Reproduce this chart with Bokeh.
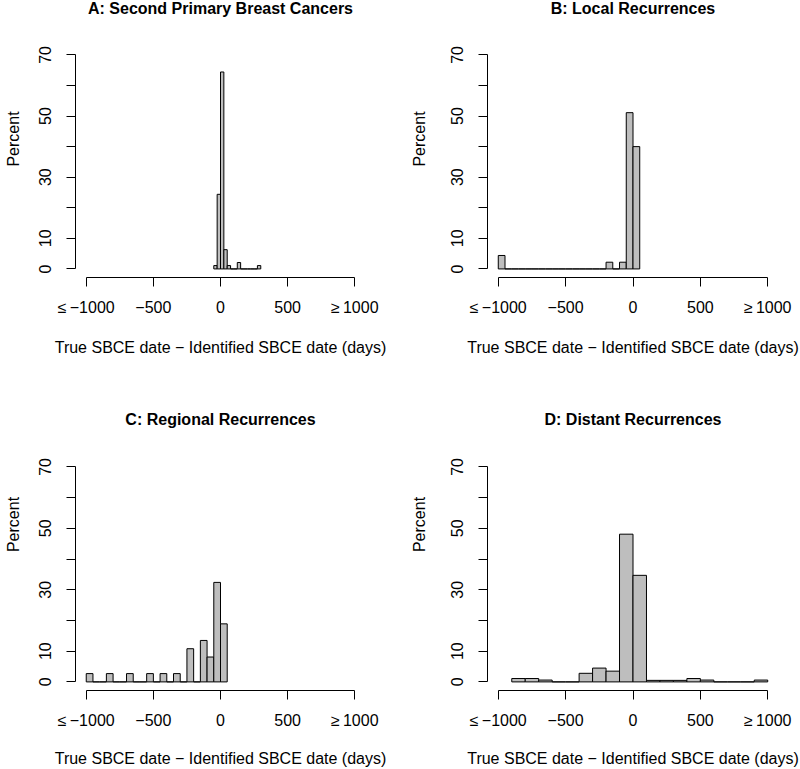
from bokeh.plotting import figure
from bokeh.layouts import column, row
from bokeh.models import Range1d, FixedTicker
from bokeh.core.properties import value
from bokeh.embed import file_html
from bokeh.resources import INLINE

FONT = "Liberation Sans"

# ---------------- data (percent of SBCEs per bin of days) ----------------
titles = ["A: Second Primary Breast Cancers", "B: Local Recurrences",
          "C: Regional Recurrences", "D: Distant Recurrences"]

a_edges = [-50, -25, 0, 25, 50, 75, 100, 125, 150, 175, 200, 225, 250, 275, 300]
a_pct = [1.1, 24.4, 64.4, 6.3, 1.1, 0, 0, 2.1, 0, 0, 0, 0, 0, 1.1]

b_edges = [-1000, -950, -900, -850, -800, -750, -700, -650, -600, -550, -500,
           -450, -400, -350, -300, -250, -200, -150, -100, -50, 0, 50]
b_pct = [4.4, 0, 0, 0, 0, 0, 0, 0, 0, 0, 0, 0, 0, 0, 0, 0, 2.2, 0, 2.2, 51.1, 40.0]

c_edges = [-1000, -950, -900, -850, -800, -750, -700, -650, -600, -550, -500,
           -450, -400, -350, -300, -250, -200, -150, -100, -50, 0, 50]
c_pct = [2.7, 0, 0, 2.7, 0, 0, 2.7, 0, 0, 2.7, 0, 2.7, 0, 2.7, 0, 10.8, 0, 13.5,
         8.1, 32.4, 18.9]

d_edges = [-900, -800, -700, -600, -500, -400, -300, -200, -100, 0, 100, 200,
           300, 400, 500, 600, 700, 800, 900, 1000]
d_pct = [1.1, 1.1, 0.6, 0, 0, 2.8, 4.5, 3.5, 48.1, 34.7, 0.5, 0.5, 0.5, 1.1, 0.6,
         0, 0, 0, 0.6]

x_ticks = [-1000, -500, 0, 500, 1000]
x_tick_labels = ["\u2264\u2009\u22121000", "\u2212500", "0", "500", "\u2265\u20091000"]
y_ticks = [0, 10, 20, 30, 40, 50, 60, 70]
y_tick_labels = ["0", "10", "", "30", "", "50", "", "70"]

x_label = "True SBCE date \u2212 Identified SBCE date (days)"
y_label = "Percent"


def panel(title, edges, pct, width, height, bl, br, bb, y_top, ylab_std, xlab_std):
    p = figure(width=width, height=height, output_backend="svg", toolbar_location=None,
               x_range=Range1d(-1080, 1080), y_range=Range1d(-2.8, y_top),
               min_border_left=bl, min_border_right=br,
               min_border_top=0, min_border_bottom=bb)
    p.quad(left=edges[:-1], right=edges[1:], bottom=0, top=pct,
           fill_color="#BEBEBE", line_color="#000000", line_width=1)
    # panel title, drawn above the 0-70 axis span
    p.text(x=[0], y=[85.3], text=[title], text_align="center", text_baseline="middle",
           text_font=value(FONT), text_font_size="16px", text_font_style="bold",
           text_color="#000000")
    p.outline_line_color = None
    p.xgrid.visible = False
    p.ygrid.visible = False
    p.background_fill_color = "white"
    p.border_fill_color = "white"

    xa = p.xaxis[0]
    xa.ticker = FixedTicker(ticks=x_ticks)
    xa.major_label_overrides = {t: l for t, l in zip(x_ticks, x_tick_labels)}
    xa.bounds = (-1000, 1000)
    xa.axis_label = x_label
    ya = p.yaxis[0]
    ya.ticker = FixedTicker(ticks=y_ticks)
    ya.major_label_overrides = {t: l for t, l in zip(y_ticks, y_tick_labels)}
    ya.bounds = (0, 70)
    ya.axis_label = y_label
    ya.major_label_orientation = "vertical"

    for ax in (xa, ya):
        ax.axis_line_color = "#000000"
        ax.axis_line_width = 1
        ax.major_tick_line_color = "#000000"
        ax.major_tick_out = 9
        ax.major_tick_in = 0
        ax.minor_tick_line_color = None
        ax.major_label_text_font = FONT
        ax.major_label_text_font_size = "16px"
        ax.major_label_text_color = "#000000"
        ax.axis_label_text_font = FONT
        ax.axis_label_text_font_size = "16px"
        ax.axis_label_text_font_style = "normal"
        ax.axis_label_text_color = "#000000"
    xa.major_label_standoff = 12
    ya.major_label_standoff = 15
    ya.axis_label_standoff = ylab_std
    xa.axis_label_standoff = xlab_std
    return p


# row 1: frame from top of figure to 278 px; row 2: frame from 358 to 691 px
pa = panel(titles[0], a_edges, a_pct, 400, 358, 75, 35, 80, 87.78, 15, 20)
pb = panel(titles[1], b_edges, b_pct, 400, 358, 87, 22, 80, 87.78, 21, 20)
pc = panel(titles[2], c_edges, c_pct, 400, 411, 75, 35, 78, 105.3, 15, 18)
pd = panel(titles[3], d_edges, d_pct, 400, 411, 87, 22, 78, 105.3, 21, 18)

layout = column(row(pa, pb), row(pc, pd))

open("out.html", "w").write(file_html(layout, INLINE))
